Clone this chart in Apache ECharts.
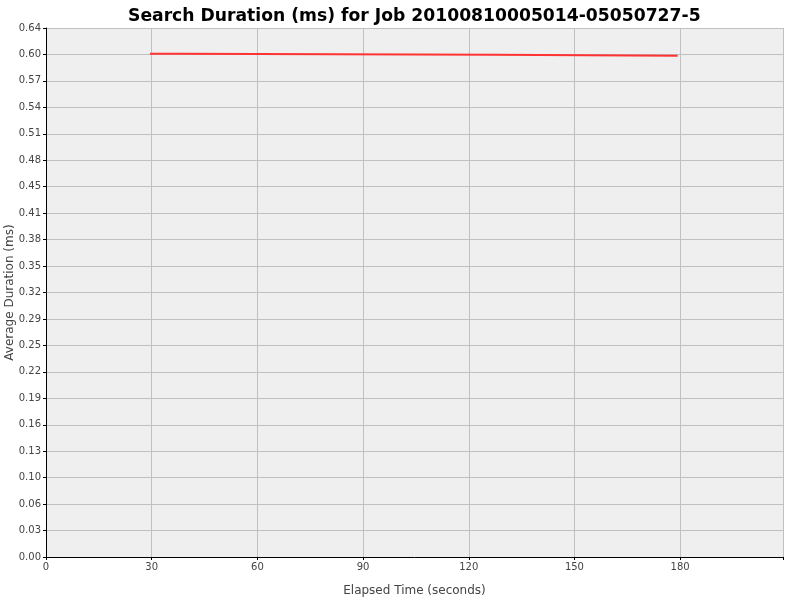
<!DOCTYPE html>
<html><head><meta charset="utf-8">
<script src="https://cdn.jsdelivr.net/npm/echarts@6/dist/echarts.min.js"></script>
<style>html,body{margin:0;padding:0;background:#fff}#c{width:800px;height:600px}</style>
</head><body><div id="c"></div>
<script>
const titleText = 'Search Duration (ms) for Job 20100810005014-05050727-5';
const elapsedSeconds = [29.5, 37.4, 126.9, 179.3];
const avgDuration = [0.6051, 0.6039, 0.6027, 0.6027];
const xTicks = [0, 30, 60, 90, 120, 150, 180];

const chart = echarts.init(document.getElementById('c'));
chart.setOption({
  animation: false,
  backgroundColor: '#ffffff',
  title: {
    text: titleText, left: 123, top: 3,
    textStyle: {fontFamily: 'DejaVu Sans', fontWeight: 'bold', fontSize: 17.2, color: '#000'}
  },
  grid: {left: 46, right: 17, top: 28, bottom: 43, show: true, backgroundColor: '#efefef', borderWidth: 0,
    containLabel: false, outerBoundsMode: 'none'},
  xAxis: {
    type: 'value', min: 0, max: 209.2, interval: 30,
    name: 'Elapsed Time (seconds)', nameLocation: 'middle', nameGap: 28, nameMoveOverlap: false,
    nameTextStyle: {fontFamily: 'DejaVu Sans', fontSize: 12, color: '#444'},
    axisLine: {show: true, onZero: false, lineStyle: {color: '#000', width: 1}},
    axisTick: {show: true, length: 3, lineStyle: {color: '#000'}},
    axisLabel: {fontFamily: 'DejaVu Sans', fontSize: 10, color: '#444', margin: 5,
      formatter: v => xTicks.indexOf(v) >= 0 ? String(v) : ''},
    splitLine: {show: true, lineStyle: {color: '#c0c0c0', width: 1}}
  },
  yAxis: {
    type: 'value', min: 0, max: 0.636, interval: 0.0318,
    name: 'Average Duration (ms)', nameLocation: 'middle', nameGap: 30, nameMoveOverlap: false,
    nameTextStyle: {fontFamily: 'DejaVu Sans', fontSize: 12, color: '#444'},
    axisLine: {show: true, lineStyle: {color: '#000', width: 1}},
    axisTick: {show: true, length: 3, lineStyle: {color: '#000'}},
    axisLabel: {fontFamily: 'DejaVu Sans', fontSize: 10, color: '#444', margin: 5,
      formatter: v => v.toFixed(2)},
    splitLine: {show: true, lineStyle: {color: '#c0c0c0', width: 1}}
  },
  series: [{
    type: 'line', step: 'end', symbol: 'none',
    data: elapsedSeconds.map((x, i) => [x, avgDuration[i]]),
    lineStyle: {color: '#ff3333', width: 2}
  }]
});
</script></body></html>
